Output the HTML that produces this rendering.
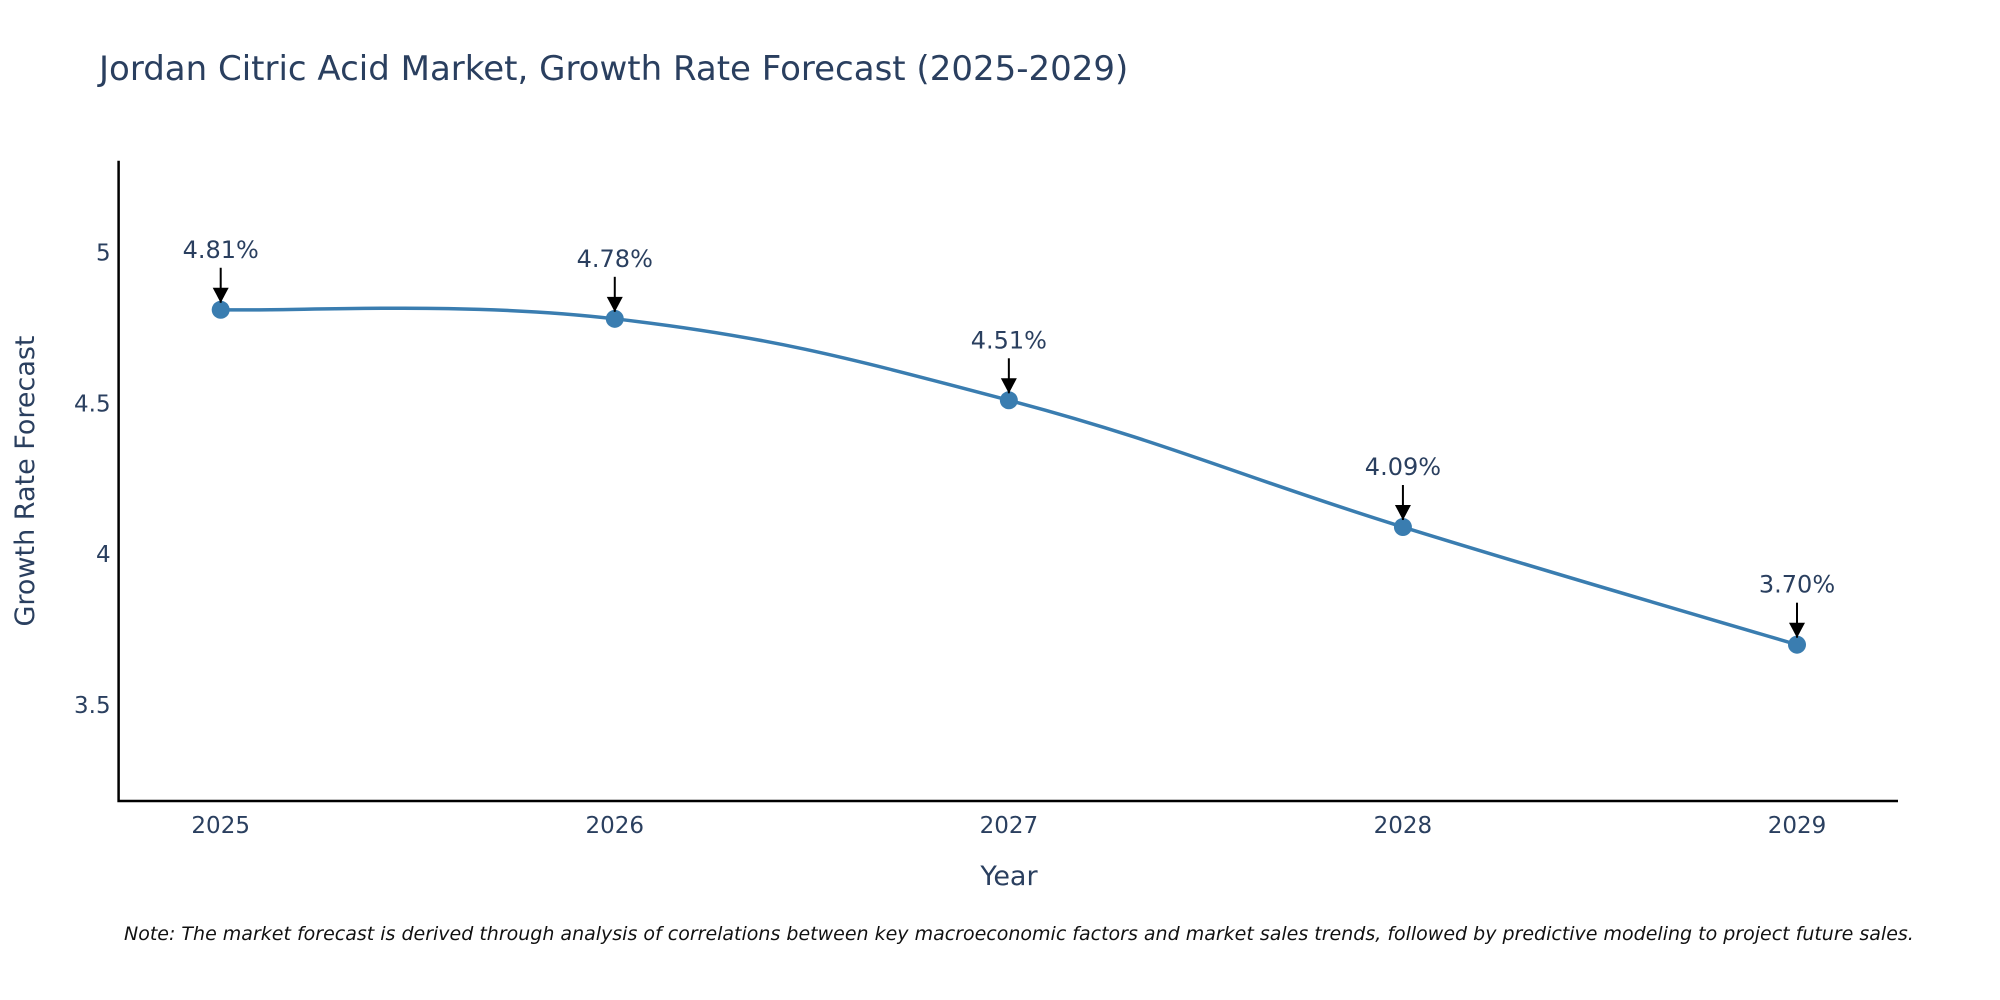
<!DOCTYPE html>
<html><head><meta charset="utf-8"><style>
body{margin:0;background:#fff;}
svg{display:block;font-family:"DejaVu Sans","Liberation Sans",sans-serif;}
</style></head><body>
<svg id="chart" width="2000" height="1000" viewBox="0 0 2000 1000" xmlns="http://www.w3.org/2000/svg">
<defs><marker id="ah" viewBox="0 0 10 10" refX="10" refY="5" markerWidth="7" markerHeight="7" markerUnits="userSpaceOnUse" orient="auto"><path d="M0,0 L10,5 L0,10 z" fill="#000"/></marker></defs>
<text x="99" y="80" font-size="34" fill="#2a3f5f">Jordan Citric Acid Market, Growth Rate Forecast (2025-2029)</text>
<g id="plot"></g>
<text transform="translate(34,481) rotate(-90)" text-anchor="middle" font-size="27" fill="#2a3f5f">Growth Rate Forecast</text>
<text x="1009" y="885" text-anchor="middle" font-size="27" fill="#2a3f5f">Year</text>
<text x="124" y="940" font-size="19" font-style="italic" fill="#111">Note: The market forecast is derived through analysis of correlations between key macroeconomic factors and market sales trends, followed by predictive modeling to project future sales.</text>
</svg>
<script>
const years = [2025, 2026, 2027, 2028, 2029];
const growth = [4.81, 4.78, 4.51, 4.09, 3.70];
const labels = ["4.81%", "4.78%", "4.51%", "4.09%", "3.70%"];
const yTicks = [3.5, 4, 4.5, 5];
const yTickLabels = ["3.5", "4", "4.5", "5"];

const NS = "http://www.w3.org/2000/svg";
const L = 118.6, R = 1898, T = 160.7, B = 801;
const yMin = 3.182, yMax = 5.304;
const xs = v => 220.7 + (v - 2025) * (1797 - 220.7) / 4;
const ys = v => B - (v - yMin) / (yMax - yMin) * (B - T);
const g = document.getElementById("plot");
function mk(tag, attrs, parent) {
  const e = document.createElementNS(NS, tag);
  for (const k in attrs) e.setAttribute(k, attrs[k]);
  (parent || g).appendChild(e);
  return e;
}
yTicks.forEach((t, i) => {
  const tx = mk("text", {x: L - 8, y: ys(t) + 8, "text-anchor": "end", "font-size": 23, fill: "#2a3f5f"});
  
  
  tx.textContent = yTickLabels[i];
});
years.forEach(yr => {
  const tx = mk("text", {x: xs(yr), y: B + 32, "text-anchor": "middle", "font-size": 23, fill: "#2a3f5f"});
  
  
  tx.textContent = yr;
});
const ax = mk("path", {d: `M${L},${T} L${L},${B} L${R},${B}`, stroke: "#000", "stroke-width": 2.5, fill: "none"});


const pts = years.map((yr, i) => [xs(yr), ys(growth[i])]);
let d = `M${pts[0][0]},${pts[0][1]}`;
const s = 0.2;
for (let i = 0; i < pts.length - 1; i++) {
  const p0 = pts[Math.max(i - 1, 0)], p1 = pts[i], p2 = pts[i + 1], p3 = pts[Math.min(i + 2, pts.length - 1)];
  const c1 = [p1[0] + (p2[0] - p0[0]) * s, p1[1] + (p2[1] - p0[1]) * s];
  const c2 = [p2[0] - (p3[0] - p1[0]) * s, p2[1] - (p3[1] - p1[1]) * s];
  d += ` C${c1[0]},${c1[1]} ${c2[0]},${c2[1]} ${p2[0]},${p2[1]}`;
}
const line = mk("path", {d: d, stroke: "#3a7db0", "stroke-width": 3.5, fill: "none"});


pts.forEach((p, i) => {
  const c = mk("circle", {cx: p[0], cy: p[1], r: 9, fill: "#3a7db0"});
  
  
  const a = mk("line", {x1: p[0], y1: p[1] - 42, x2: p[0], y2: p[1] - 7, stroke: "#000", "stroke-width": 2, "marker-end": "url(#ah)"});
  
  
  const mh = mk("path", {d: `M${p[0]-8},${p[1]-22} L${p[0]+8},${p[1]-22} L${p[0]},${p[1]-7} z`, fill: "#000"});
  
  
  const t = mk("text", {x: p[0], y: p[1] - 52, "text-anchor": "middle", "font-size": 24, fill: "#2a3f5f"});
  
  
  t.textContent = labels[i];
});
</script>
</body></html>
